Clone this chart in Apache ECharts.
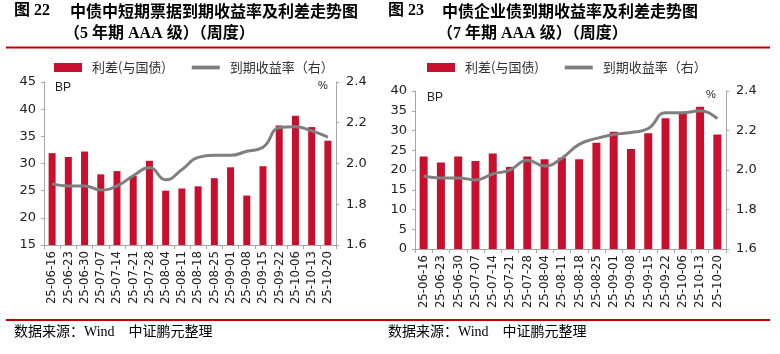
<!DOCTYPE html>
<html>
<head>
<meta charset="utf-8">
<script src="https://cdn.jsdelivr.net/npm/echarts@6/dist/echarts.min.js"></script>
<style>
  html, body { margin: 0; padding: 0; background: #fff; }
  #main { width: 780px; height: 354px; }
</style>
</head>
<body>
<div id="main"></div>
<script>
// 日期（周度）
var dates = ['25-06-16', '25-06-23', '25-06-30', '25-07-07', '25-07-14', '25-07-21', '25-07-28', '25-08-04', '25-08-11',
    '25-08-18', '25-08-25', '25-09-01', '25-09-08', '25-09-15', '25-09-22', '25-10-06', '25-10-13', '25-10-20'];
// 图22 中短期票据 5年期 AAA
var cpSpread = [31.9, 31.2, 32.2, 28.0, 28.6, 27.7, 30.5, 25.0, 25.4, 25.8, 27.3, 29.3, 24.1, 29.5, 37.0, 38.8, 36.7, 34.2];
var cpYield = [1.90, 1.89, 1.89, 1.87, 1.89, 1.94, 1.98, 1.92, 1.97, 2.03, 2.04, 2.04, 2.06, 2.08, 2.175, 2.18, 2.16, 2.13];
// 图23 企业债 7年期 AAA
var ebSpread = [23.4, 21.9, 23.4, 22.3, 24.2, 20.8, 23.4, 22.7, 23.1, 22.7, 26.9, 29.7, 25.3, 29.3, 33.1, 34.7, 36.0, 29.0];
var ebYield = [1.97, 1.96, 1.96, 1.95, 1.98, 2.00, 2.05, 2.02, 2.06, 2.13, 2.16, 2.18, 2.19, 2.21, 2.29, 2.29, 2.30, 2.26];

var RED = '#c8102e';
var GRAY = '#7f7f7f';
var AXIS = '#a6a6a6';
var cjk = '"Noto Sans CJK SC", sans-serif';
var serif = '"Liberation Serif", "Noto Sans CJK SC", serif';
var lineIcon = 'path://M0 0H30V4H0Z';

function xAx(gi) {
    return {
        type: 'category', gridIndex: gi, data: dates,
        axisLine: {lineStyle: {color: AXIS}},
        axisTick: {show: true, length: 4, lineStyle: {color: AXIS}},
        axisLabel: {rotate: 90, margin: 6, interval: 0, hideOverlap: false, fontSize: 13, color: '#222',
            fontFamily: 'DejaVu Sans Condensed'}
    };
}
function yAx(gi, min, max, interval, right, digits) {
    return {
        type: 'value', gridIndex: gi, min: min, max: max, interval: interval,
        position: right ? 'right' : 'left',
        axisLine: {show: true, lineStyle: {color: AXIS}},
        axisTick: {show: true, length: 3, lineStyle: {color: AXIS}},
        splitLine: {show: false},
        axisLabel: {
            margin: right ? 10 : 8, fontSize: 13, color: '#222', fontFamily: 'DejaVu Sans',
            formatter: function (v) { return digits ? v.toFixed(1) : String(v); }
        }
    };
}
function txt(x, y, s, size, font, weight, color) {
    return {type: 'text', left: x, top: y, style: {text: s, fontSize: size, fontFamily: font,
        fontWeight: weight || 'normal', fill: color || '#000'}};
}
function legendAt(x) {
    return {left: x, top: 56, itemWidth: 28, itemHeight: 9, itemGap: 26,
        textStyle: {fontSize: 13, color: '#333', fontFamily: cjk, padding: [0, 0, 0, 5]},
        data: [{name: '利差(与国债)', icon: 'rect'}, {name: '到期收益率（右）', icon: lineIcon}]};
}

var chart = echarts.init(document.getElementById('main'));
var option = {
    animation: false,
    grid: [
        {left: 44, right: 444, top: 82, bottom: 109},
        {left: 415, right: 54, top: 91, bottom: 105}
    ],
    legend: [legendAt(49), legendAt(422)],
    xAxis: [xAx(0), xAx(1)],
    yAxis: [
        yAx(0, 15, 45, 5, false, false),
        yAx(0, 1.6, 2.4, 0.2, true, true),
        yAx(1, 0, 40, 5, false, false),
        yAx(1, 1.6, 2.4, 0.2, true, true)
    ],
    series: [
        {name: '利差(与国债)', type: 'bar', xAxisIndex: 0, yAxisIndex: 0, data: cpSpread,
            barWidth: 7, itemStyle: {color: RED}},
        {name: '到期收益率（右）', type: 'line', xAxisIndex: 0, yAxisIndex: 1, data: cpYield,
            smooth: true, symbol: 'none', lineStyle: {color: GRAY, width: 3}, itemStyle: {color: GRAY}},
        {name: '利差(与国债)', type: 'bar', xAxisIndex: 1, yAxisIndex: 2, data: ebSpread,
            barWidth: 8, itemStyle: {color: RED}},
        {name: '到期收益率（右）', type: 'line', xAxisIndex: 1, yAxisIndex: 3, data: ebYield,
            smooth: true, symbol: 'none', lineStyle: {color: GRAY, width: 3}, itemStyle: {color: GRAY}}
    ],
    graphic: [
        txt(14, 3, '图 22', 16, serif, 'bold'),
        txt(70, 3, '中债中短期票据到期收益率及利差走势图', 16, cjk, 'bold'),
        txt(64, 26, '（5 年期 AAA 级）（周度）', 16, serif, 'bold'),
        txt(388, 3, '图 23', 16, serif, 'bold'),
        txt(442, 3, '中债企业债到期收益率及利差走势图', 16, cjk, 'bold'),
        txt(437, 26, '（7 年期 AAA 级）（周度）', 16, serif, 'bold'),
        {type: 'line', shape: {x1: 6, y1: 47.5, x2: 770, y2: 47.5}, style: {stroke: '#c00000', lineWidth: 2}},
        {type: 'line', shape: {x1: 6, y1: 320, x2: 770, y2: 320}, style: {stroke: '#c00000', lineWidth: 2}},
        txt(55, 82, 'BP', 12, 'Liberation Sans', 'normal', '#222'),
        txt(318, 80, '%', 11, 'Liberation Sans', 'normal', '#222'),
        txt(427, 92, 'BP', 12, 'Liberation Sans', 'normal', '#222'),
        txt(706, 89, '%', 11, 'Liberation Sans', 'normal', '#222'),
        txt(14, 325, '数据来源：Wind　中证鹏元整理', 14, serif, 'normal'),
        txt(388, 325, '数据来源：Wind　中证鹏元整理', 14, serif, 'normal')
    ]
};
chart.setOption(option);
</script>
</body>
</html>
